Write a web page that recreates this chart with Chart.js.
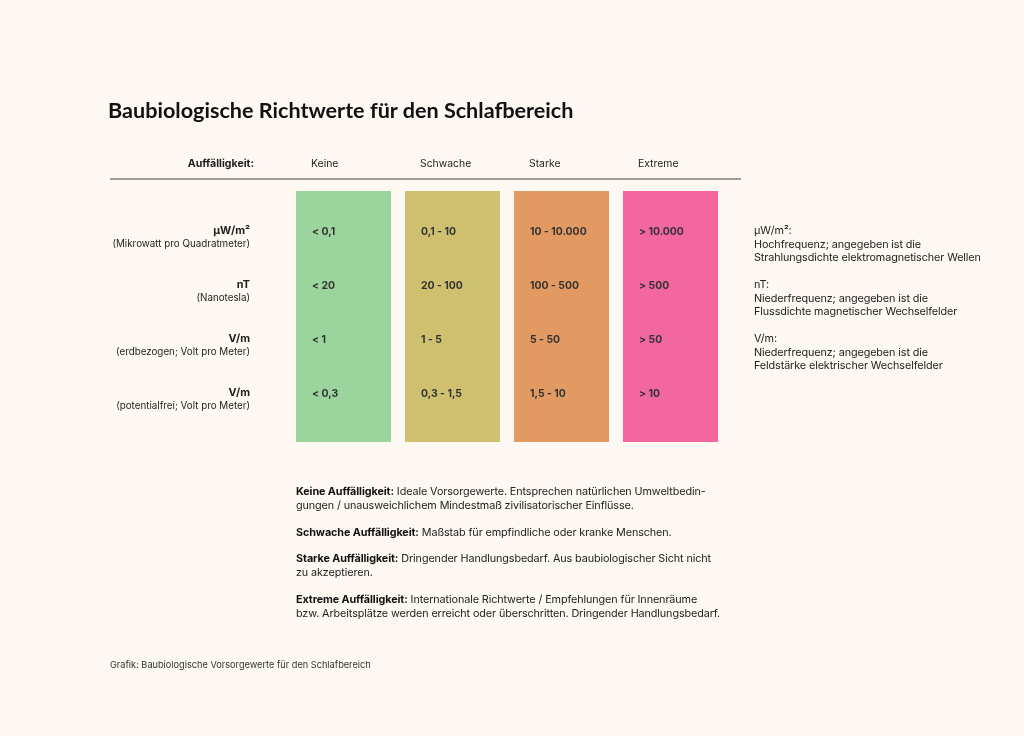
<!DOCTYPE html>
<html lang="de">
<head>
<meta charset="UTF-8">
<title>Baubiologische Richtwerte für den Schlafbereich</title>
<script src="https://cdn.jsdelivr.net/npm/chart.js@4.4.1/dist/chart.umd.min.js"></script>
<style>
  html, body { margin: 0; padding: 0; background: #fdf8f2; }
  body { width: 1024px; height: 736px; position: relative; overflow: hidden;
         font-family: Inter, "Noto Sans", sans-serif; color: #1e1e1e; }
  #wrap { position: absolute; left: 0; top: 0; width: 1024px; height: 736px; }
  h1 { position: absolute; left: 108px; top: 97px; margin: 0; font-family: Lato, sans-serif;
       font-weight: 700; font-size: 21.6px; letter-spacing: 0; color: #111; }
  .side { position: absolute; left: 754px; font-size: 10.8px; line-height: 13.5px; color: #222;
          white-space: nowrap; letter-spacing: -0.1px; }
  .notes { position: absolute; left: 296px; top: 485px; font-size: 10.8px; line-height: 14px; color: #222;
           white-space: nowrap; letter-spacing: -0.1px; }
  .notes p { margin: 0 0 12.5px 0; }
  .notes b { font-weight: 700; color: #111; }
  .source { position: absolute; left: 110px; top: 659px; font-size: 9.2px; color: #333; }
</style>
</head>
<body>
<div id="wrap"><canvas id="chart" width="1024" height="736"></canvas></div>

<h1>Baubiologische Richtwerte für den Schlafbereich</h1>

<div class="side" style="top:224px">µW/m²:<br>Hochfrequenz; angegeben ist die<br>Strahlungsdichte elektromagnetischer Wellen</div>
<div class="side" style="top:278px">nT:<br>Niederfrequenz; angegeben ist die<br>Flussdichte magnetischer Wechselfelder</div>
<div class="side" style="top:332px">V/m:<br>Niederfrequenz; angegeben ist die<br>Feldstärke elektrischer Wechselfelder</div>

<div class="notes">
  <p><b>Keine Auffälligkeit:</b> Ideale Vorsorgewerte. Entsprechen natürlichen Umweltbedin-<br>gungen / unausweichlichem Mindestmaß zivilisatorischer Einflüsse.</p>
  <p><b>Schwache Auffälligkeit:</b> Maßstab für empfindliche oder kranke Menschen.</p>
  <p><b>Starke Auffälligkeit:</b> Dringender Handlungsbedarf. Aus baubiologischer Sicht nicht<br>zu akzeptieren.</p>
  <p><b>Extreme Auffälligkeit:</b> Internationale Richtwerte / Empfehlungen für Innenräume<br>bzw. Arbeitsplätze werden erreicht oder überschritten. Dringender Handlungsbedarf.</p>
</div>

<div class="source">Grafik: Baubiologische Vorsorgewerte für den Schlafbereich</div>

<script>
// columns = level of concern
const levels = ['Keine', 'Schwache', 'Starke', 'Extreme'];
const levelColors = ['#9bd49c', '#cfc06f', '#e39a62', '#f2679e'];

// rows = measured quantity
const units = ['µW/m²', 'nT', 'V/m', 'V/m'];
const unitNotes = ['(Mikrowatt pro Quadratmeter)', '(Nanotesla)', '(erdbezogen; Volt pro Meter)', '(potentialfrei; Volt pro Meter)'];
const rows = [0, 1, 2, 3];

// threshold values, one array per column
const keine    = ['< 0,1', '< 20', '< 1', '< 0,3'];
const schwache = ['0,1 - 10', '20 - 100', '1 - 5', '0,3 - 1,5'];
const starke   = ['10 - 10.000', '100 - 500', '5 - 50', '1,5 - 10'];
const extreme  = ['> 10.000', '> 500', '> 50', '> 10'];
const cells = [keine, schwache, starke, extreme];

// each colour band spans all rows (in row units)
const bandStart = -0.76;
const bandEnd = 3.89;
const bands = levels.map(function () { return [bandStart, bandEnd]; });

var tableText = {
  id: 'tableText',
  afterDatasetsDraw: function (chart) {
    var ctx = chart.ctx;
    var y = chart.scales.y;
    var area = chart.chartArea;
    var bars = chart.getDatasetMeta(0).data;
    ctx.save();

    // header rule
    ctx.strokeStyle = '#a19c97';
    ctx.lineWidth = 2;
    ctx.beginPath();
    ctx.moveTo(110, area.top - 12);
    ctx.lineTo(741, area.top - 12);
    ctx.stroke();

    // header row
    ctx.textBaseline = 'middle';
    ctx.fillStyle = '#1e1e1e';
    ctx.textAlign = 'right';
    ctx.font = 'bold 10.6px Inter';
    ctx.fillText('Auffälligkeit:', 254, area.top - 27);
    ctx.textAlign = 'left';
    ctx.font = '10.4px Inter';
    bars.forEach(function (bar, i) {
      ctx.fillText(levels[i], bar.x - bar.width / 2 + 15, area.top - 27);
    });

    // row labels
    rows.forEach(function (r) {
      var py = y.getPixelForValue(r);
      ctx.textAlign = 'right';
      ctx.font = 'bold 10.8px Inter';
      ctx.fillText(units[r], 250, py - 1);
      ctx.font = '9.8px Inter';
      ctx.fillText(unitNotes[r], 250, py + 12);
    });

    // cell values
    ctx.textAlign = 'left';
    ctx.font = 'bold 10.4px Inter';
    ctx.fillStyle = '#333';
    bars.forEach(function (bar, i) {
      rows.forEach(function (r) {
        ctx.fillText(cells[i][r], bar.x - bar.width / 2 + 16, y.getPixelForValue(r));
      });
    });
    ctx.restore();
  }
};

new Chart(document.getElementById('chart'), {
  type: 'bar',
  data: {
    labels: levels,
    datasets: [{
      data: bands,
      backgroundColor: levelColors,
      borderWidth: 0,
      borderSkipped: false,
      barPercentage: 1,
      categoryPercentage: 95 / 109
    }]
  },
  options: {
    responsive: false,
    animation: false,
    layout: { padding: { left: 289, right: 299, top: 191, bottom: 294 } },
    plugins: { legend: { display: false }, tooltip: { enabled: false } },
    scales: {
      x: { display: false },
      y: { display: false, reverse: true, min: bandStart, max: bandEnd }
    }
  },
  plugins: [tableText]
});
</script>
</body>
</html>
